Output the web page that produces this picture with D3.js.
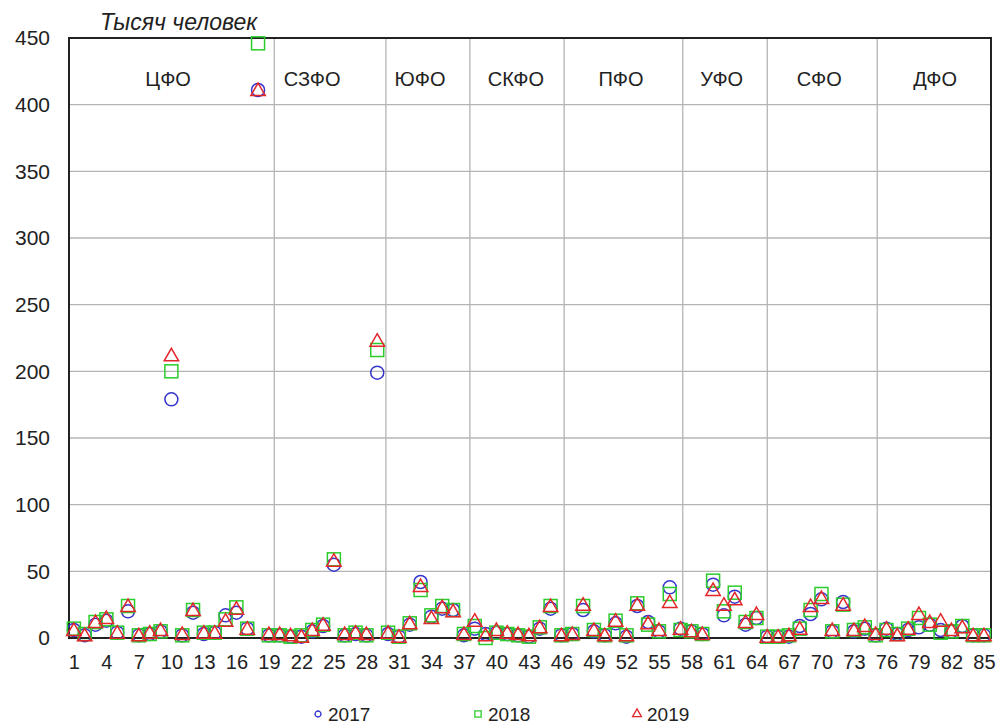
<!DOCTYPE html>
<html>
<head>
<meta charset="utf-8">
<script src="https://cdn.jsdelivr.net/npm/d3@7"></script>
<style>
body { margin: 0; background: #fff; }
text { font-family: "Liberation Sans", Arial, sans-serif; fill: #222; }
</style>
</head>
<body>
<svg id="chart" width="1000" height="725"></svg>
<script>
// Data: region number 1..85, values in thousands of people
var regions = d3.range(1, 86);
var y2017 = [6, 2, 10, 13, 4, 20, 2, 3, 5, 179, 2, 19, 3, 4, 17, 19, 7, 411,
  2, 2, 1, 1, 5, 9, 55, 2, 3, 2, 199,
  3, 1, 10, 42, 16, 22, 21, 2,
  7, 3, 4, 3, 2, 1, 7,
  22, 2, 3, 21, 5, 2, 11, 1, 24, 12, 5, 38, 7, 5,
  3, 40, 17, 31, 10, 15,
  1, 1, 1, 9, 18, 29, 5, 27, 5, 7,
  2, 7, 3, 6, 8, 10, 6, 5, 9, 2, 2];
var y2018 = [7, 3, 12, 14, 4, 24, 2, 3, 5, 200, 2, 21, 4, 4, 14, 23, 7, 446,
  2, 2, 1, 2, 6, 10, 59, 2, 4, 2, 216,
  4, 1, 11, 36, 17, 24, 21, 3,
  9, 0, 4, 3, 2, 1, 8,
  24, 2, 3, 24, 6, 2, 13, 2, 26, 10, 5, 33, 6, 5,
  3, 43, 20, 34, 12, 15,
  1, 1, 2, 7, 21, 33, 5, 25, 6, 8,
  2, 6, 3, 7, 15, 10, 4, 5, 9, 2, 2];
var y2019 = [5, 1, 11, 14, 3, 23, 1, 3, 5, 211, 2, 20, 3, 3, 12, 21, 6, 410,
  2, 2, 1, 0, 5, 9, 57, 2, 3, 2, 222,
  3, 0, 10, 38, 14, 22, 19, 2,
  12, 1, 5, 3, 2, 1, 7,
  23, 1, 2, 24, 5, 1, 12, 1, 24, 10, 5, 26, 6, 4,
  2, 35, 24, 28, 11, 17,
  0, 0, 1, 6, 23, 29, 5, 24, 5, 8,
  2, 6, 1, 6, 17, 11, 12, 5, 7, 1, 1];
var years = ["2017", "2018", "2019"];
var yTicks = d3.range(0, 451, 50);
var xTicks = d3.range(1, 86, 3);
var districts = ["ЦФО", "СЗФО", "ЮФО", "СКФО", "ПФО", "УФО", "СФО", "ДФО"];
var districtPos = [9.7, 23, 32.95, 41.8, 51.5, 60.8, 69.8, 80.5];
var separators = [19.5, 29.8, 37.55, 46.25, 57.2, 65, 75.15];

var svg = d3.select("#chart");
var plotLeft = 69, plotRight = 991, plotTop = 38, plotBottom = 638;

var x = d3.scaleLinear().domain([0.55, 85.65]).range([plotLeft, plotRight]);
var y = d3.scaleLinear().domain([0, 450]).range([plotBottom, plotTop]);

// gridlines
svg.append("g").selectAll("line")
  .data(yTicks.filter(function(d) { return d > 0 && d < 450; }))
  .enter().append("line")
  .attr("x1", plotLeft).attr("x2", plotRight)
  .attr("y1", function(d) { return y(d); })
  .attr("y2", function(d) { return y(d); })
  .attr("stroke", "#b4b4b4").attr("stroke-width", 1.3);

svg.append("g").selectAll("line")
  .data(separators)
  .enter().append("line")
  .attr("x1", function(d) { return x(d); })
  .attr("x2", function(d) { return x(d); })
  .attr("y1", plotTop).attr("y2", plotBottom)
  .attr("stroke", "#b4b4b4").attr("stroke-width", 1.3);

// frame
svg.append("rect")
  .attr("x", plotLeft).attr("y", plotTop)
  .attr("width", plotRight - plotLeft).attr("height", plotBottom - plotTop)
  .attr("fill", "none").attr("stroke", "#222").attr("stroke-width", 2);

// y axis labels
var yAxis = d3.axisLeft(y).tickValues(yTicks).tickSize(0).tickPadding(19);
svg.append("g")
  .attr("transform", "translate(" + plotLeft + ",0)")
  .call(yAxis)
  .call(function(g) { g.select(".domain").remove(); })
  .selectAll("text")
  .style("font-size", "21px").attr("fill", "#222");

// x axis labels
var xAxis = d3.axisBottom(x).tickValues(xTicks).tickSize(0).tickPadding(17);
svg.append("g")
  .attr("transform", "translate(0," + plotBottom + ")")
  .call(xAxis)
  .call(function(g) { g.select(".domain").remove(); })
  .selectAll("text")
  .style("font-size", "20px").attr("fill", "#222");

// district names
svg.append("g").selectAll("text")
  .data(districts)
  .enter().append("text")
  .attr("x", function(d, i) { return x(districtPos[i]); })
  .attr("y", y(419))
  .attr("text-anchor", "middle")
  .attr("dominant-baseline", "central")
  .style("font-size", "20px")
  .text(function(d) { return d; });

// title
svg.append("text")
  .attr("x", 100).attr("y", 30)
  .style("font-size", "23px").style("font-style", "italic")
  .text("Тысяч человек");

// markers
var blue = "#3535cc", green = "#2ccc2c", red = "#e3262a";

svg.append("g").selectAll("circle")
  .data(regions)
  .enter().append("circle")
  .attr("cx", function(d) { return x(d); })
  .attr("cy", function(d, i) { return y(y2017[i]); })
  .attr("r", 6.5)
  .attr("fill", "none").attr("stroke", blue).attr("stroke-width", 1.5);

svg.append("g").selectAll("rect")
  .data(regions)
  .enter().append("rect")
  .attr("x", function(d) { return x(d) - 6.5; })
  .attr("y", function(d, i) { return y(y2018[i]) - 6.5; })
  .attr("width", 13).attr("height", 13)
  .attr("fill", "none").attr("stroke", green).attr("stroke-width", 1.5);

var tri = d3.symbol().type(d3.symbolTriangle).size(90);
svg.append("g").selectAll("path")
  .data(regions)
  .enter().append("path")
  .attr("d", tri)
  .attr("transform", function(d, i) { return "translate(" + x(d) + "," + y(y2019[i]) + ")"; })
  .attr("fill", "none").attr("stroke", red).attr("stroke-width", 1.5);

// legend
var legendX = [318, 478, 637];
var legend = svg.append("g").selectAll("g")
  .data(years)
  .enter().append("g")
  .attr("transform", function(d, i) { return "translate(" + legendX[i] + ",714)"; });

legend.append("path")
  .attr("d", function(d, i) {
    if (i == 0) return d3.symbol().type(d3.symbolCircle).size(28)();
    if (i == 1) return d3.symbol().type(d3.symbolSquare).size(40)();
    return d3.symbol().type(d3.symbolTriangle).size(34)();
  })
  .attr("fill", "none")
  .attr("stroke", function(d, i) { return [blue, green, red][i]; })
  .attr("stroke-width", 1.3);

legend.append("text")
  .attr("x", 10).attr("y", 0)
  .attr("dominant-baseline", "central")
  .style("font-size", "19px")
  .text(function(d) { return d; });
</script>
</body>
</html>
